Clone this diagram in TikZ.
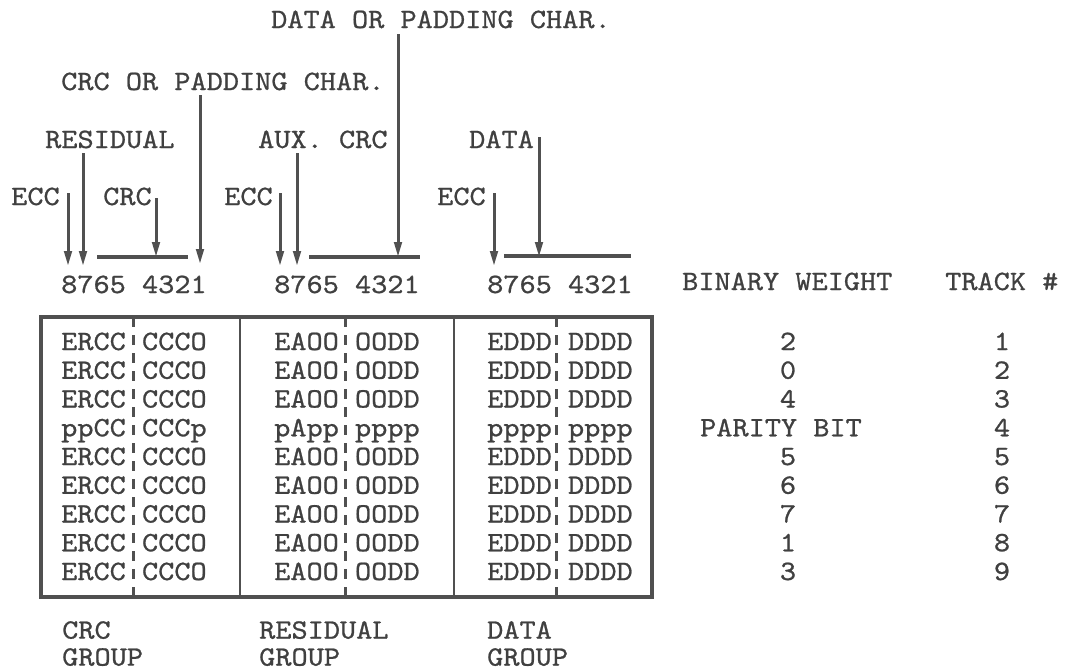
\documentclass[tikz,border=0pt]{standalone}
\usepackage{fontspec}
\usetikzlibrary{arrows.meta}
\newfontfamily\typefont[Extension=.otf, FakeStretch=1.1, FakeBold=0.8]{lmmono10-regular}
\definecolor{txtgray}{HTML}{404040}
\definecolor{lngray}{HTML}{505050}

\begin{document}
\begin{tikzpicture}[x=1pt, y=-1pt, >={Triangle[length=15pt,width=7.5pt]},
  every node/.style={inner sep=0pt, anchor=base west, text=txtgray,
    font=\typefont\fontsize{28}{27}\selectfont},
  lead/.style={line width=3pt, draw=lngray, ->},
  bar/.style={line width=3.6pt, draw=lngray},
  tick/.style={line width=3pt, draw=lngray, dash pattern=on 10pt off 8pt}]
  \useasboundingbox (0,0) rectangle (1068,670);

  % Labels above the bit numbers
  \node (ldpc) at (271,28) {DATA OR PADDING CHAR.};
  \node (lcpc) at (61,90) {CRC OR PADDING CHAR.};
  \node (lres) at (45,148) {RESIDUAL};
  \node (laux) at (258,148) {AUX. CRC};
  \node (ldat) at (469,148) {DATA};
  \node (lecca) at (11,205) {ECC};
  \node (leccb) at (224,205) {ECC};
  \node (leccc) at (437,205) {ECC};
  \node (lcrc) at (103,205) {CRC};

  % Leaders down to the bit row
  \foreach \x/\t/\b [count=\k] in {68/193/266, 83/153/266, 156/198/257,
      200/95/264, 280/193/266, 297/153/266, 398/34/257, 494/193/266, 539/137/257} {
    \coordinate (t\k) at (\x,\t);
    \coordinate (h\k) at (\x,\b);
    \draw[lead] (t\k) -- (h\k);
  }
  \draw[bar] (97,257) -- (188,257);
  \draw[bar] (309,257) -- (420,257);
  \draw[bar] (504,256) -- (631,256);

  % Column headings
  \node (bita) at (61,293) {8765 4321};
  \node (bitb) at (274,293) {8765 4321};
  \node (bitc) at (487,293) {8765 4321};
  \node (lbw) at (682,290) {BINARY WEIGHT};
  \node (ltn) at (945,290) {TRACK \#};

  % Frame with the three groups
  \draw[line width=3.6pt, draw=lngray] (41,317) rectangle (652,597);
  \draw[line width=2.8pt, draw=lngray] (240,317) -- (240,597);
  \draw[line width=2.8pt, draw=lngray] (454,317) -- (454,597);
  \foreach \x in {133,345,556}
    \draw[tick] (\x,317) -- (\x,597);

  % Track rows
  \foreach \a/\b/\c [count=\i] in {ERCC CCCO/EAOO OODD/EDDD DDDD,
      ERCC CCCO/EAOO OODD/EDDD DDDD, ERCC CCCO/EAOO OODD/EDDD DDDD,
      ppCC CCCp/pApp pppp/pppp pppp, ERCC CCCO/EAOO OODD/EDDD DDDD,
      ERCC CCCO/EAOO OODD/EDDD DDDD, ERCC CCCO/EAOO OODD/EDDD DDDD,
      ERCC CCCO/EAOO OODD/EDDD DDDD, ERCC CCCO/EAOO OODD/EDDD DDDD} {
    \pgfmathsetmacro\yy{350+28.75*(\i-1)}
    \node (rcrc\i) at (61,\yy) {\a};
    \node (rres\i) at (274,\yy) {\b};
    \node (rdat\i) at (487,\yy) {\c};
    \node[anchor=base] (trk\i) at (1002,\yy) {\i};
  }
  \foreach \w/\wx [count=\i] in {2/788, 0/788, 4/788, PARITY BIT/781,
      5/788, 6/788, 7/788, 1/788, 3/788} {
    \pgfmathsetmacro\yy{350+28.75*(\i-1)}
    \node[anchor=base] (wt\i) at (\wx,\yy) {\w};
  }

  % Group names
  \node[anchor=north west, align=left] (gcrc) at (62,621) {CRC\\GROUP};
  \node[anchor=north west, align=left] (gres) at (259,621) {RESIDUAL\\GROUP};
  \node[anchor=north west, align=left] (gdat) at (487,621) {DATA\\GROUP};
\end{tikzpicture}
\end{document}
